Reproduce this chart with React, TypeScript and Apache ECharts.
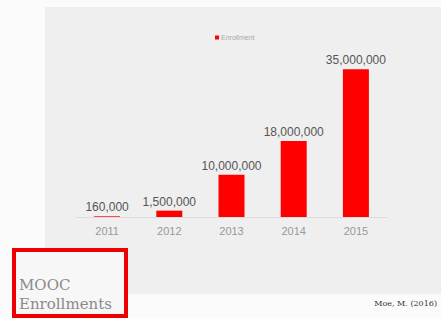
import React, { useEffect, useRef } from "react";
import * as echarts from "echarts";

const years = ["2011", "2012", "2013", "2014", "2015"];
const enrollment = [160000, 1500000, 10000000, 18000000, 35000000];
const seriesName = "Enrollment";
const titleLines = ["MOOC", "Enrollments"];
const sourceText = "Moe, M. (2016)";

function fmt(v: number): string {
  return v.toString().replace(/\B(?=(\d{3})+(?!\d))/g, ",");
}

export default function App() {
  const ref = useRef<HTMLDivElement>(null);
  useEffect(() => {
    if (!ref.current) return;
    const chart = echarts.init(ref.current, null, { renderer: "svg" });
    chart.setOption({
      animation: false,
      backgroundColor: "#fbfbfb",
      legend: {
        data: [seriesName],
        top: 29,
        left: 210,
        itemWidth: 4,
        itemHeight: 4,
        itemGap: 2,
        icon: "rect",
        textStyle: { fontSize: 7, color: "#aaa", fontFamily: "Liberation Sans", padding: [0, 0, 0, -3] },
      },
      grid: { left: 76, right: 54, top: 48, bottom: 101 },
      xAxis: {
        type: "category",
        data: years,
        axisLine: { lineStyle: { color: "#dcdcdc", width: 1 } },
        axisTick: { show: false },
        axisLabel: { color: "#999", fontSize: 11, fontFamily: "Liberation Sans", margin: 8 },
      },
      yAxis: {
        type: "value",
        min: 0,
        max: 40000000,
        show: false,
        splitLine: { show: false },
      },
      graphic: [
        {
          type: "rect",
          z: -10,
          shape: { x: 45, y: 7, width: 396, height: 287 },
          style: { fill: "#efefef" },
        },
        {
          type: "rect",
          z: 10,
          shape: { x: 14, y: 250, width: 112, height: 66 },
          style: { fill: "#f7f7f7", stroke: "#ee0000", lineWidth: 4 },
        },
        {
          type: "text",
          z: 11,
          x: 19,
          y: 277,
          style: { text: titleLines[0], fontSize: 15, fill: "#8a8a8a", fontFamily: "DejaVu Serif" },
        },
        {
          type: "text",
          z: 11,
          x: 19,
          y: 296,
          style: { text: titleLines[1], fontSize: 15, fill: "#8a8a8a", fontFamily: "DejaVu Serif" },
        },
        {
          type: "text",
          z: 11,
          right: 4,
          top: 299,
          style: { text: sourceText, fontSize: 8, fill: "#333", fontFamily: "DejaVu Serif" },
        },
      ],
      series: [
        {
          name: seriesName,
          type: "bar",
          data: enrollment,
          barWidth: 26,
          itemStyle: { color: "#ff0000" },
          label: {
            show: true,
            position: "top",
            distance: 3,
            color: "#555",
            fontSize: 12,
            fontFamily: "Liberation Sans",
            formatter: (p: any) => fmt(p.value),
          },
        },
      ],
    });
    return () => chart.dispose();
  }, []);
  return (
    <div
      ref={ref}
      style={{ position: "fixed", left: 0, top: 0, width: 441, height: 318 }}
    />
  );
}
